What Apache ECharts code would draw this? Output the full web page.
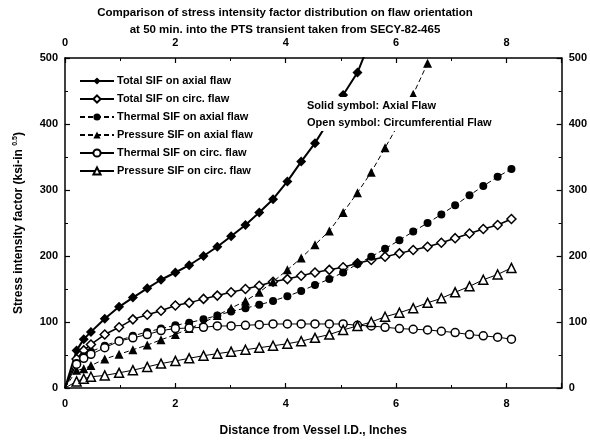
<!DOCTYPE html>
<html>
<head>
<meta charset="utf-8">
<script src="https://cdn.jsdelivr.net/npm/echarts@6/dist/echarts.min.js"></script>
<style>
  html, body { margin: 0; padding: 0; background: #fff; }
  #chart { width: 590px; height: 442px; }
</style>
</head>
<body>
<div id="chart"></div>
<script>
// distance from vessel I.D. (inches), shared by all series
const depth = [0.21, 0.34, 0.47, 0.72, 0.98, 1.23, 1.49, 1.74, 2.0, 2.25, 2.51, 2.76, 3.01, 3.27, 3.52, 3.77,
  4.03, 4.28, 4.53, 4.79, 5.04, 5.3, 5.55, 5.8, 6.06, 6.31, 6.57, 6.82, 7.07, 7.33, 7.58, 7.84, 8.09]

const totalAxial = [57, 74, 85, 105, 123, 137, 151, 164, 175, 186, 200, 214, 230, 247, 266, 286,
  313, 343, 371, 406, 444, 478, 530]
const totalCirc = [44, 57, 66, 81, 92, 104, 111, 117, 125, 129, 135, 140, 145, 150, 155, 161,
  165, 170, 175, 179, 183, 189, 194, 199, 204, 209, 214, 220, 227, 234, 241, 247, 256]
const thermalAxial = [38, 48, 55, 64, 72, 79, 85, 90, 95, 99, 104, 110, 116, 121, 126, 132,
  139, 147, 156, 165, 175, 188, 199, 211, 224, 237, 250, 263, 277, 292, 306, 320, 332]
const pressureAxial = [27, 29, 34, 44, 51, 58, 65, 73, 81, 90, 99, 110, 121, 132, 145, 161,
  179, 197, 217, 238, 266, 296, 327, 364, 402, 445, 492]
const thermalCirc = [36, 45, 51, 61, 71, 76, 81, 87, 90, 91, 92, 94, 94, 95, 96, 97,
  97, 97, 97, 97, 97, 95, 94, 92, 90, 89, 88, 86, 84, 81, 79, 77, 74]
const pressureCirc = [10, 14, 17, 19, 23, 27, 32, 37, 41, 45, 49, 52, 55, 58, 61, 64,
  67, 71, 76, 81, 88, 94, 100, 108, 114, 121, 129, 136, 145, 154, 164, 172, 182]

const xTicks = [0, 2, 4, 6, 8]
const yTicks = [0, 100, 200, 300, 400, 500]

const font = 'Arial, "Liberation Sans", Helvetica, sans-serif'

// pair values with depth, starting the curve at the origin
const pairs = (vals) => [{ value: [0, 0], symbol: 'none' }].concat(vals.map((v, i) => [depth[i], v]))

const mkSeries = (name, vals, symbol, filled, lineType, width, size) => ({
  name,
  type: 'line',
  data: pairs(vals),
  symbol,
  symbolSize: size,
  showAllSymbol: true,
  clip: true,
  lineStyle: { color: '#000', width, type: lineType },
  itemStyle: { color: filled ? '#000' : '#fff', borderColor: '#000', borderWidth: filled ? 0 : 1.5 },
  emphasis: { disabled: true },
  z: 3
})

const xAxisBase = (position) => ({
  type: 'value',
  position,
  min: 0,
  max: 9,
  interval: 2,
  axisLine: { show: true, onZero: false, lineStyle: { color: '#000', width: 1.5 } },
  axisTick: { show: true, inside: true, length: 5, lineStyle: { color: '#000', width: 1.2 } },
  minorTick: { show: true, splitNumber: 2, length: 3, lineStyle: { color: '#000' } },
  axisLabel: {
    color: '#000', fontFamily: font, fontWeight: 'bold', fontSize: 11, margin: 10,
    showMaxLabel: false,
    formatter: (v) => (xTicks.includes(v) ? String(v) : '')
  },
  splitLine: { show: false }
})

const yAxisBase = (position) => ({
  type: 'value',
  position,
  min: 0,
  max: 500,
  interval: 100,
  axisLine: { show: true, onZero: false, lineStyle: { color: '#000', width: 1.5 } },
  axisTick: { show: true, inside: true, length: 5, lineStyle: { color: '#000', width: 1.2 } },
  minorTick: { show: true, splitNumber: 2, length: 3, lineStyle: { color: '#000' } },
  axisLabel: {
    color: '#000', fontFamily: font, fontWeight: 'bold', fontSize: 11, margin: 7,
    formatter: (v) => (yTicks.includes(v) ? String(v) : '')
  },
  splitLine: { show: false }
})

const chart = echarts.init(document.getElementById('chart'), null, { renderer: 'canvas' })

chart.setOption({
  backgroundColor: '#fff',
  animation: false,
  title: [
    {
      text: 'Comparison of stress intensity factor distribution on flaw orientation',
      left: 280, top: 2, textAlign: 'center',
      textStyle: { fontFamily: font, fontWeight: 'bold', fontSize: 11.5, color: '#000' }
    },
    {
      text: 'at 50 min. into the PTS transient taken from SECY-82-465',
      left: 280, top: 19, textAlign: 'center',
      textStyle: { fontFamily: font, fontWeight: 'bold', fontSize: 11.5, color: '#000' }
    }
  ],
  grid: { left: 65, right: 28, top: 58, bottom: 50.5, containLabel: false },
  legend: {
    orient: 'vertical',
    left: 74,
    top: 70,
    itemWidth: 34,
    itemHeight: 9,
    itemGap: 6,
    selectedMode: false,
    textStyle: { fontFamily: font, fontSize: 11, fontWeight: 'bold', color: '#000', lineHeight: 12, padding: [0, 0, 0, -2] },
    data: ['Total SIF on axial flaw', 'Total SIF on circ. flaw', 'Thermal SIF on axial flaw',
      'Pressure SIF on axial flaw', 'Thermal SIF on circ. flaw', 'Pressure SIF on circ. flaw']
  },
  xAxis: [
    Object.assign(xAxisBase('bottom'), {
      name: 'Distance from Vessel I.D., Inches',
      nameLocation: 'middle',
      nameGap: 37,
      nameTextStyle: { fontFamily: font, fontWeight: 'bold', fontSize: 12, color: '#000' }
    }),
    xAxisBase('top')
  ],
  yAxis: [
    Object.assign(yAxisBase('left'), {
      name: '{a|Stress intensity factor (ksi-in }{s|0.5}{a|)}',
      nameLocation: 'middle',
      nameGap: 39,
      nameRotate: 90,
      nameTextStyle: {
        rich: {
          a: { fontFamily: font, fontWeight: 'bold', fontSize: 12, color: '#000' },
          s: { fontFamily: font, fontWeight: 'bold', fontSize: 7, color: '#000', padding: [0, 0, 7, 0] }
        }
      }
    }),
    yAxisBase('right')
  ],
  series: [
    mkSeries('Total SIF on axial flaw', totalAxial, 'diamond', true, 'solid', 2, 10),
    mkSeries('Total SIF on circ. flaw', totalCirc, 'diamond', false, 'solid', 1.5, 9),
    mkSeries('Thermal SIF on axial flaw', thermalAxial, 'circle', true, [5, 3], 1, 8),
    mkSeries('Pressure SIF on axial flaw', pressureAxial, 'triangle', true, [5, 3], 1, 9),
    mkSeries('Thermal SIF on circ. flaw', thermalCirc, 'circle', false, 'solid', 1, 8),
    mkSeries('Pressure SIF on circ. flaw', pressureCirc, 'triangle', false, 'solid', 1, 9)
  ],
  graphic: [
    {
      type: 'text', left: 305, top: 97, z: 10,
      style: {
        text: 'Solid symbol: Axial Flaw\nOpen symbol: Circumferential Flaw',
        fontFamily: font, fontWeight: 'bold', fontSize: 11, lineHeight: 17,
        fill: '#000', backgroundColor: '#fff', padding: [0, 2, 0, 2]
      }
    }
  ]
})
</script>
</body>
</html>
